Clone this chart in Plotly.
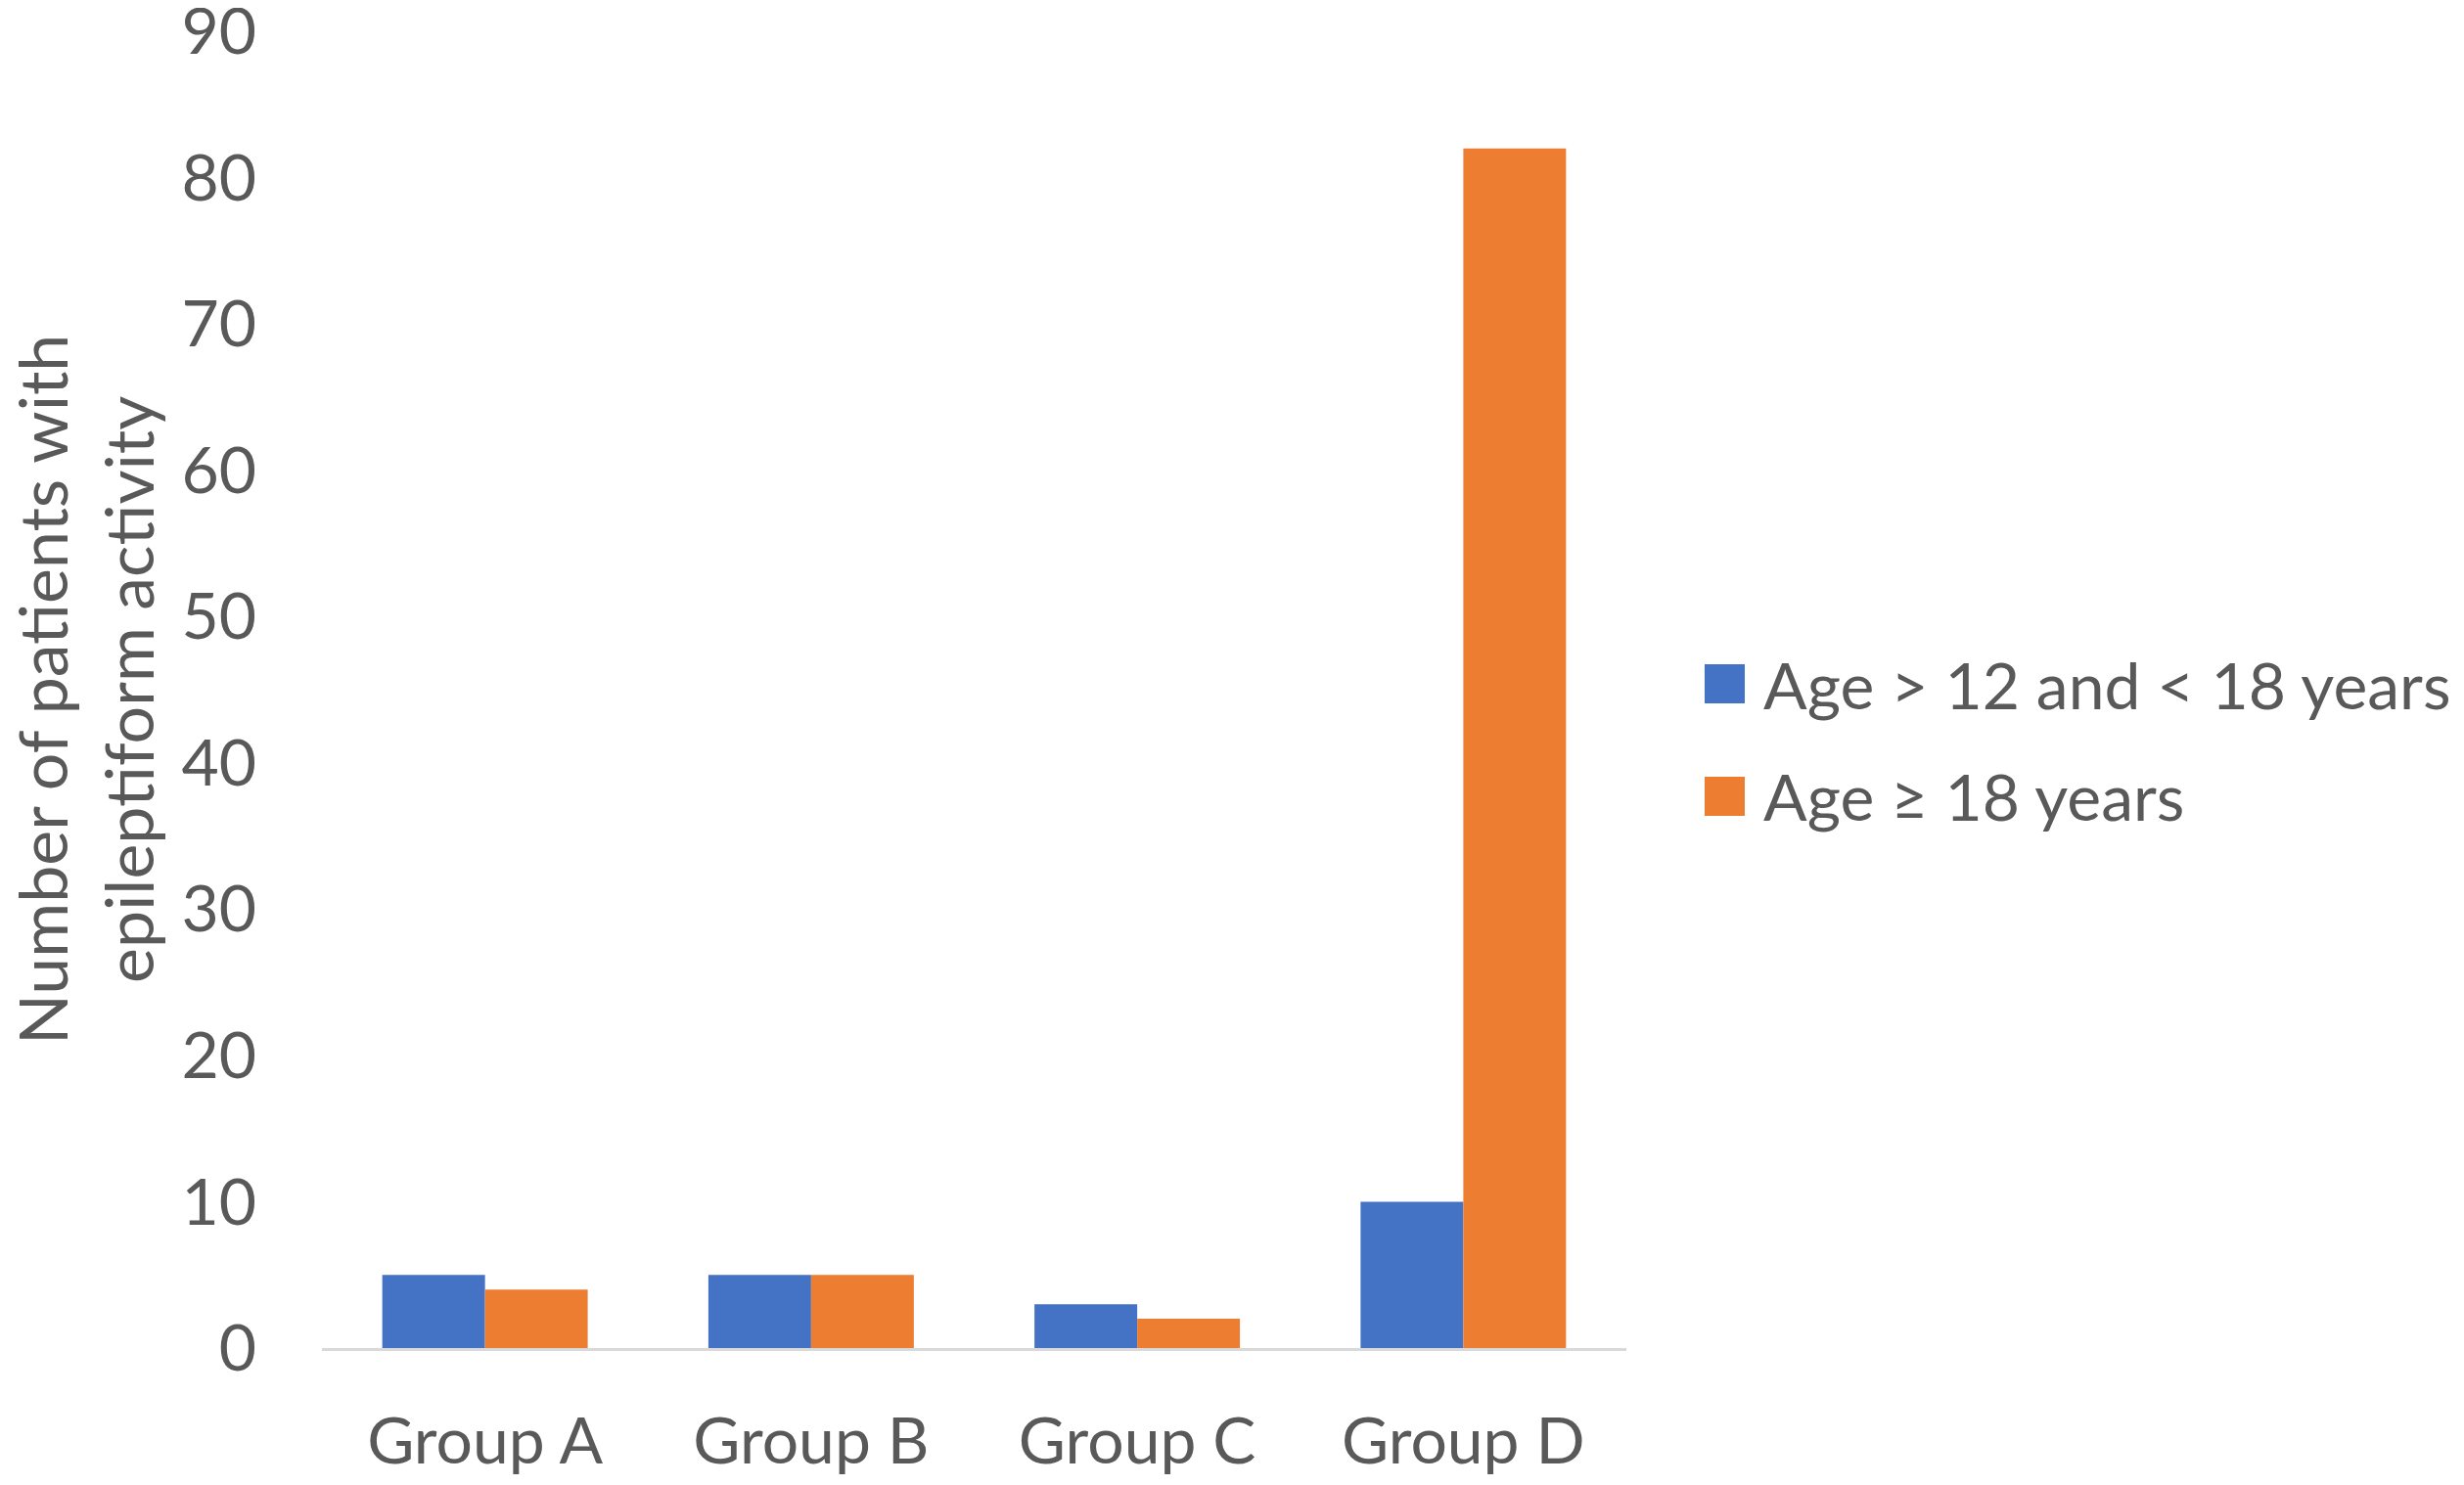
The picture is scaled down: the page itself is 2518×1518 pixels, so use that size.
import plotly.graph_objects as go

categories = ["Group A", "Group B", "Group C", "Group D"]
series_names = ["Age > 12 and < 18 years", "Age \u2265 18 years"]
teen_values = [5, 5, 3, 10]
adult_values = [4, 5, 2, 82]
colors = ["#4472C4", "#ED7D31"]
y_ticks = [0, 10, 20, 30, 40, 50, 60, 70, 80, 90]
y_title = "Number of patients with<br>epileptiform activity"

FONT = "Lato"
TXT = "#595959"
OFF = 8  # page body margin
W, H = 2518 - 2 * OFF, 1518 - 2 * OFF
# target plot area in window pixels: x 329..1662, y 32..1378
ML = 329 - OFF
MT = 32 - OFF
MR = (OFF + W) - 1662
MB = (OFF + H) - 1378
PW, PH = W - ML - MR, H - MT - MB

fig = go.Figure()
for name, vals, col in zip(series_names, [teen_values, adult_values], colors):
    fig.add_trace(go.Bar(x=categories, y=vals, name=name, marker=dict(color=col, line=dict(width=0)),
                         showlegend=False))

# custom legend (large swatches), positions in window pixels
rows_px = [699, 814]
for name, col, ry in zip(series_names, colors, rows_px):
    yc = (1378 - ry) / PH
    fig.add_shape(type="rect", xref="paper", yref="paper",
                  x0=(1742 - 329) / PW, x1=(1783 - 329) / PW,
                  y0=yc - 20 / PH, y1=yc + 20 / PH,
                  fillcolor=col, line=dict(width=0))
    fig.add_annotation(xref="paper", yref="paper", x=(1800 - 329) / PW, y=yc,
                       text=name, showarrow=False, xanchor="left", yanchor="middle",
                       font=dict(family=FONT, size=66, color=TXT))

# y-axis title as rotated annotation (so it can sit closer to the left edge)
fig.add_annotation(xref="paper", yref="paper", x=(86 - 329) / PW, y=0.5,
                   text=y_title, showarrow=False, textangle=-90,
                   xanchor="center", yanchor="middle",
                   font=dict(family=FONT, size=68, color=TXT))

fig.update_layout(
    width=W, height=H,
    margin=dict(l=ML, r=MR, t=MT, b=MB, autoexpand=False),
    paper_bgcolor="white", plot_bgcolor="white",
    barmode="group", bargap=0.37, bargroupgap=0,
    font=dict(family=FONT, size=66, color=TXT),
    showlegend=False,
)
fig.update_xaxes(showline=True, linecolor="#D9D9D9", linewidth=3, ticks="",
                 showgrid=False, ticklabelstandoff=36, ticklabeloverflow="allow",
                 tickfont=dict(family=FONT, size=66, color=TXT))
fig.update_yaxes(range=[0, 90], tickvals=y_ticks, showgrid=False, zeroline=False,
                 showline=False, ticks="", ticklabelstandoff=66, ticklabeloverflow="allow",
                 tickfont=dict(family=FONT, size=66, color=TXT))

fig.write_html("out.html")
